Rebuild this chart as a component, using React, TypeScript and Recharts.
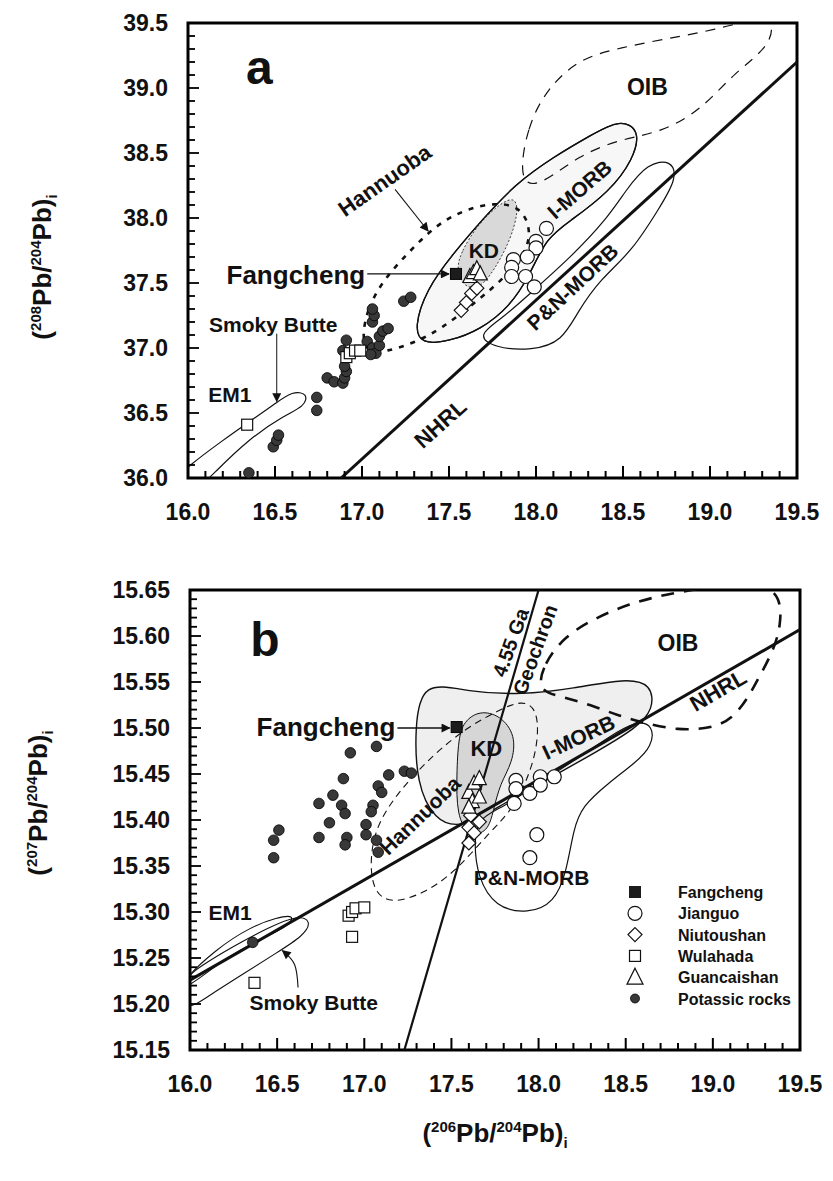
import React from 'react';
import { ScatterChart, Scatter, XAxis, YAxis, ReferenceArea, Legend } from 'recharts';

const FONT = '"Liberation Sans", Arial, Helvetica, sans-serif';
const INK = '#111';

// axis ticks (labelled)
const X_TICKS = [16.0, 16.5, 17.0, 17.5, 18.0, 18.5, 19.0, 19.5];
const Y_TICKS_A = [36.0, 36.5, 37.0, 37.5, 38.0, 38.5, 39.0, 39.5];
const Y_TICKS_B = [15.15, 15.2, 15.25, 15.3, 15.35, 15.4, 15.45, 15.5, 15.55, 15.6, 15.65];

// ---------- panel a : 208Pb/204Pb vs 206Pb/204Pb ----------
const FANGCHENG_A = [{ x: 17.54, y: 37.57 }];
const JIANGUO_A = [
  { x: 18.06, y: 37.92 }, { x: 18.0, y: 37.82 }, { x: 18.0, y: 37.77 },
  { x: 17.95, y: 37.7 }, { x: 17.87, y: 37.68 }, { x: 17.86, y: 37.62 },
  { x: 17.86, y: 37.55 }, { x: 17.94, y: 37.55 }, { x: 17.99, y: 37.47 },
];
const NIUTOUSHAN_A = [
  { x: 17.57, y: 37.29 }, { x: 17.6, y: 37.35 }, { x: 17.63, y: 37.42 }, { x: 17.66, y: 37.46 },
];
const WULAHADA_A = [
  { x: 16.34, y: 36.41 }, { x: 16.91, y: 36.93 }, { x: 16.93, y: 36.96 },
  { x: 16.96, y: 36.98 }, { x: 16.99, y: 36.98 },
];
const GUANCAISHAN_A = [
  { x: 17.62, y: 37.55 }, { x: 17.64, y: 37.58 }, { x: 17.66, y: 37.61 }, { x: 17.68, y: 37.57 },
];
const POTASSIC_A = [
  { x: 16.35, y: 36.04 },
  { x: 16.49, y: 36.24 }, { x: 16.51, y: 36.29 }, { x: 16.52, y: 36.33 },
  { x: 16.74, y: 36.52 }, { x: 16.74, y: 36.62 },
  { x: 16.8, y: 36.77 }, { x: 16.84, y: 36.74 }, { x: 16.89, y: 36.73 },
  { x: 16.9, y: 36.77 }, { x: 16.91, y: 36.82 }, { x: 16.9, y: 36.86 },
  { x: 16.89, y: 36.98 }, { x: 16.91, y: 37.06 },
  { x: 17.03, y: 37.05 }, { x: 17.06, y: 37.0 }, { x: 17.08, y: 36.96 },
  { x: 17.05, y: 36.95 }, { x: 17.1, y: 37.02 },
  { x: 17.06, y: 37.2 }, { x: 17.07, y: 37.25 }, { x: 17.06, y: 37.3 },
  { x: 17.1, y: 37.09 }, { x: 17.12, y: 37.13 }, { x: 17.15, y: 37.15 },
  { x: 17.24, y: 37.36 }, { x: 17.28, y: 37.39 },
];
const NHRL_A = [{ x: 16.88, y: 36.0 }, { x: 19.5, y: 39.2 }];

const FIELD_IMORB_A = [
  { x: 17.3, y: 37.16 }, { x: 17.37, y: 37.45 }, { x: 17.52, y: 37.72 }, { x: 17.7, y: 38.0 },
  { x: 17.88, y: 38.26 }, { x: 18.1, y: 38.47 }, { x: 18.32, y: 38.64 }, { x: 18.48, y: 38.76 },
  { x: 18.6, y: 38.68 }, { x: 18.56, y: 38.45 }, { x: 18.42, y: 38.2 }, { x: 18.2, y: 37.98 },
  { x: 18.06, y: 37.85 }, { x: 17.96, y: 37.55 }, { x: 17.85, y: 37.32 }, { x: 17.68, y: 37.14 },
  { x: 17.5, y: 37.05 }, { x: 17.34, y: 37.03 },
];
const FIELD_PNMORB_A = [
  { x: 17.66, y: 37.1 }, { x: 17.8, y: 37.22 }, { x: 18.0, y: 37.46 }, { x: 18.2, y: 37.7 },
  { x: 18.4, y: 37.98 }, { x: 18.52, y: 38.22 }, { x: 18.64, y: 38.42 }, { x: 18.78, y: 38.45 },
  { x: 18.81, y: 38.3 }, { x: 18.71, y: 38.08 }, { x: 18.55, y: 37.74 }, { x: 18.37, y: 37.53 },
  { x: 18.24, y: 37.28 }, { x: 18.15, y: 37.05 }, { x: 17.98, y: 36.98 }, { x: 17.76, y: 37.0 },
];
const FIELD_KD_A = [
  { x: 17.54, y: 37.6 }, { x: 17.57, y: 37.74 }, { x: 17.66, y: 37.94 }, { x: 17.78, y: 38.1 },
  { x: 17.88, y: 38.17 }, { x: 17.9, y: 38.05 }, { x: 17.85, y: 37.82 }, { x: 17.76, y: 37.6 },
  { x: 17.68, y: 37.46 }, { x: 17.59, y: 37.46 },
];
const FIELD_HANNUOBA_A = [
  { x: 17.0, y: 37.08 }, { x: 17.03, y: 37.3 }, { x: 17.12, y: 37.52 }, { x: 17.27, y: 37.74 },
  { x: 17.42, y: 37.94 }, { x: 17.58, y: 38.06 }, { x: 17.76, y: 38.12 }, { x: 17.91, y: 38.09 },
  { x: 17.97, y: 37.92 }, { x: 17.95, y: 37.75 }, { x: 17.82, y: 37.54 }, { x: 17.66, y: 37.36 },
  { x: 17.46, y: 37.15 }, { x: 17.3, y: 37.04 }, { x: 17.14, y: 36.97 }, { x: 17.03, y: 36.97 },
];
const FIELD_OIB_A = [
  { x: 17.9, y: 38.3 }, { x: 17.95, y: 38.7 }, { x: 18.06, y: 38.99 }, { x: 18.25, y: 39.23 },
  { x: 18.49, y: 39.31 }, { x: 18.75, y: 39.38 }, { x: 19.01, y: 39.44 }, { x: 19.38, y: 39.58 },
  { x: 19.35, y: 39.32 }, { x: 19.14, y: 39.12 }, { x: 18.95, y: 38.83 }, { x: 18.72, y: 38.66 },
  { x: 18.5, y: 38.61 }, { x: 18.25, y: 38.49 }, { x: 18.0, y: 38.22 },
];
const FIELD_EM1_A = [
  { x: 15.9, y: 35.96 }, { x: 16.0, y: 36.09 }, { x: 16.2, y: 36.29 }, { x: 16.36, y: 36.44 },
  { x: 16.5, y: 36.57 }, { x: 16.6, y: 36.67 }, { x: 16.69, y: 36.65 }, { x: 16.67, y: 36.55 },
  { x: 16.55, y: 36.48 }, { x: 16.35, y: 36.3 }, { x: 16.15, y: 36.04 }, { x: 16.05, y: 35.9 },
];
const ARROW_FANGCHENG_A = [{ x: 17.03, y: 37.57 }, { x: 17.5, y: 37.57 }];
const ARROW_HANNUOBA_A = [{ x: 17.19, y: 38.22 }, { x: 17.38, y: 37.9 }];
const ARROW_SMOKY_A = [{ x: 16.51, y: 37.11 }, { x: 16.51, y: 36.59 }];

const LABELS_A = [
  { x: 16.41, y: 39.16, text: 'a' },
  { x: 18.64, y: 39.01, text: 'OIB' },
  { x: 18.25, y: 38.22, text: 'I-MORB' },
  { x: 18.21, y: 37.47, text: 'P&N-MORB' },
  { x: 17.45, y: 36.42, text: 'NHRL' },
  { x: 17.7, y: 37.75, text: 'KD' },
  { x: 17.13, y: 38.29, text: 'Hannuoba' },
  { x: 16.62, y: 37.56, text: 'Fangcheng' },
  { x: 16.49, y: 37.18, text: 'Smoky Butte' },
  { x: 16.24, y: 36.64, text: 'EM1' },
];
const LABEL_STYLE_A: Record<string, { size: number; angle?: number }> = {
  a: { size: 48 },
  OIB: { size: 23 },
  'I-MORB': { size: 21, angle: -41 },
  'P&N-MORB': { size: 21, angle: -43 },
  NHRL: { size: 22, angle: -42 },
  KD: { size: 21 },
  Hannuoba: { size: 22, angle: -35 },
  Fangcheng: { size: 26 },
  'Smoky Butte': { size: 21 },
  EM1: { size: 21 },
};

// ---------- panel b : 207Pb/204Pb vs 206Pb/204Pb ----------
const FANGCHENG_B = [{ x: 17.53, y: 15.501 }];
const JIANGUO_B = [
  { x: 17.87, y: 15.443 }, { x: 17.87, y: 15.434 }, { x: 17.95, y: 15.429 },
  { x: 18.01, y: 15.447 }, { x: 18.01, y: 15.438 }, { x: 18.09, y: 15.447 },
  { x: 17.86, y: 15.418 }, { x: 17.99, y: 15.384 }, { x: 17.95, y: 15.359 },
];
const NIUTOUSHAN_B = [
  { x: 17.61, y: 15.405 }, { x: 17.66, y: 15.398 }, { x: 17.6, y: 15.392 },
  { x: 17.63, y: 15.386 }, { x: 17.6, y: 15.375 },
];
const WULAHADA_B = [
  { x: 16.91, y: 15.296 }, { x: 16.93, y: 15.3 }, { x: 16.95, y: 15.304 },
  { x: 17.0, y: 15.305 }, { x: 16.93, y: 15.273 }, { x: 16.37, y: 15.223 },
];
const GUANCAISHAN_B = [
  { x: 17.6, y: 15.43 }, { x: 17.63, y: 15.44 }, { x: 17.66, y: 15.445 },
  { x: 17.62, y: 15.42 }, { x: 17.66, y: 15.425 }, { x: 17.6, y: 15.414 },
];
const POTASSIC_B = [
  { x: 17.07, y: 15.48 }, { x: 16.92, y: 15.473 }, { x: 17.14, y: 15.449 },
  { x: 17.23, y: 15.453 }, { x: 17.27, y: 15.451 }, { x: 16.88, y: 15.445 },
  { x: 17.08, y: 15.437 }, { x: 17.1, y: 15.43 }, { x: 16.82, y: 15.427 },
  { x: 16.74, y: 15.418 }, { x: 16.87, y: 15.416 }, { x: 16.89, y: 15.407 },
  { x: 17.05, y: 15.416 }, { x: 17.04, y: 15.409 }, { x: 16.8, y: 15.397 },
  { x: 17.01, y: 15.395 }, { x: 16.74, y: 15.381 }, { x: 16.9, y: 15.381 },
  { x: 16.89, y: 15.373 }, { x: 17.01, y: 15.384 }, { x: 17.07, y: 15.378 },
  { x: 17.08, y: 15.365 }, { x: 16.51, y: 15.389 }, { x: 16.48, y: 15.378 },
  { x: 16.48, y: 15.359 }, { x: 16.36, y: 15.267 },
];
const NHRL_B = [{ x: 16.0, y: 15.226 }, { x: 19.5, y: 15.607 }];
const GEOCHRON_B = [{ x: 17.23, y: 15.15 }, { x: 18.0, y: 15.65 }];

const FIELD_IMORB_B = [
  { x: 17.33, y: 15.552 }, { x: 17.6, y: 15.539 }, { x: 17.9, y: 15.536 }, { x: 18.2, y: 15.543 },
  { x: 18.5, y: 15.554 }, { x: 18.65, y: 15.548 }, { x: 18.66, y: 15.52 }, { x: 18.56, y: 15.5 },
  { x: 18.35, y: 15.476 }, { x: 18.05, y: 15.444 }, { x: 17.8, y: 15.418 }, { x: 17.56, y: 15.39 },
  { x: 17.4, y: 15.4 }, { x: 17.3, y: 15.44 }, { x: 17.29, y: 15.5 },
];
const FIELD_PNMORB_B = [
  { x: 17.65, y: 15.402 }, { x: 17.8, y: 15.414 }, { x: 18.0, y: 15.44 }, { x: 18.2, y: 15.464 },
  { x: 18.4, y: 15.49 }, { x: 18.56, y: 15.508 }, { x: 18.66, y: 15.503 }, { x: 18.65, y: 15.48 },
  { x: 18.56, y: 15.463 }, { x: 18.4, y: 15.44 }, { x: 18.25, y: 15.415 }, { x: 18.2, y: 15.39 },
  { x: 18.16, y: 15.343 }, { x: 18.09, y: 15.31 }, { x: 17.94, y: 15.298 }, { x: 17.75, y: 15.305 },
  { x: 17.65, y: 15.338 }, { x: 17.63, y: 15.375 },
];
const FIELD_KD_B = [
  { x: 17.57, y: 15.507 }, { x: 17.66, y: 15.519 }, { x: 17.78, y: 15.514 }, { x: 17.87, y: 15.492 },
  { x: 17.85, y: 15.462 }, { x: 17.78, y: 15.44 }, { x: 17.74, y: 15.41 }, { x: 17.71, y: 15.387 },
  { x: 17.6, y: 15.382 }, { x: 17.53, y: 15.405 }, { x: 17.53, y: 15.45 }, { x: 17.54, y: 15.488 },
];
const FIELD_HANNUOBA_B = [
  { x: 17.03, y: 15.35 }, { x: 17.06, y: 15.392 }, { x: 17.2, y: 15.432 }, { x: 17.4, y: 15.472 },
  { x: 17.6, y: 15.502 }, { x: 17.78, y: 15.52 }, { x: 17.9, y: 15.53 }, { x: 17.99, y: 15.522 },
  { x: 18.0, y: 15.49 }, { x: 17.96, y: 15.455 }, { x: 17.86, y: 15.413 }, { x: 17.72, y: 15.387 },
  { x: 17.52, y: 15.343 }, { x: 17.34, y: 15.32 }, { x: 17.16, y: 15.309 }, { x: 17.06, y: 15.32 },
];
const FIELD_OIB_B = [
  { x: 17.99, y: 15.54 }, { x: 18.03, y: 15.57 }, { x: 18.15, y: 15.6 }, { x: 18.33, y: 15.62 },
  { x: 18.52, y: 15.635 }, { x: 18.72, y: 15.645 }, { x: 19.0, y: 15.654 }, { x: 19.29, y: 15.658 },
  { x: 19.39, y: 15.642 }, { x: 19.39, y: 15.612 }, { x: 19.35, y: 15.585 }, { x: 19.27, y: 15.557 },
  { x: 19.2, y: 15.532 }, { x: 19.11, y: 15.51 }, { x: 19.0, y: 15.5 }, { x: 18.8, y: 15.497 },
  { x: 18.6, y: 15.506 }, { x: 18.45, y: 15.514 }, { x: 18.3, y: 15.525 }, { x: 18.14, y: 15.534 },
];
const FIELD_EM1_B = [
  { x: 15.94, y: 15.222 }, { x: 16.15, y: 15.26 }, { x: 16.35, y: 15.284 }, { x: 16.5, y: 15.294 },
  { x: 16.6, y: 15.297 }, { x: 16.57, y: 15.285 }, { x: 16.4, y: 15.27 }, { x: 16.2, y: 15.25 },
  { x: 15.98, y: 15.216 },
];
const FIELD_SMOKY_B = [
  { x: 15.96, y: 15.19 }, { x: 16.1, y: 15.208 }, { x: 16.3, y: 15.232 }, { x: 16.5, y: 15.256 },
  { x: 16.65, y: 15.274 }, { x: 16.7, y: 15.29 }, { x: 16.62, y: 15.297 }, { x: 16.45, y: 15.283 },
  { x: 16.25, y: 15.263 }, { x: 16.05, y: 15.24 }, { x: 15.96, y: 15.226 },
];
const ARROW_FANGCHENG_B = [{ x: 17.19, y: 15.5 }, { x: 17.49, y: 15.5 }];
const ARROW_SMOKY_B = [{ x: 16.62, y: 15.218 }, { x: 16.6, y: 15.243 }, { x: 16.53, y: 15.258 }];

const LABELS_B = [
  { x: 16.43, y: 15.596, text: 'b' },
  { x: 16.78, y: 15.501, text: 'Fangcheng' },
  { x: 17.7, y: 15.478, text: 'KD' },
  { x: 18.23, y: 15.49, text: 'I-MORB' },
  { x: 17.96, y: 15.337, text: 'P&N-MORB' },
  { x: 18.8, y: 15.592, text: 'OIB' },
  { x: 19.03, y: 15.541, text: 'NHRL' },
  { x: 17.84, y: 15.593, text: '4.55 Ga' },
  { x: 17.98, y: 15.585, text: 'Geochron' },
  { x: 17.32, y: 15.405, text: 'Hannuoba' },
  { x: 16.23, y: 15.299, text: 'EM1' },
  { x: 16.71, y: 15.201, text: 'Smoky Butte' },
];
const LABEL_STYLE_B: Record<string, { size: number; angle?: number }> = {
  b: { size: 48 },
  Fangcheng: { size: 26 },
  KD: { size: 22 },
  'I-MORB': { size: 21, angle: -25 },
  'P&N-MORB': { size: 21 },
  OIB: { size: 23 },
  NHRL: { size: 22, angle: -30 },
  '4.55 Ga': { size: 20, angle: -70 },
  Geochron: { size: 20, angle: -70 },
  Hannuoba: { size: 21, angle: -44 },
  EM1: { size: 21 },
  'Smoky Butte': { size: 21 },
};

const LEGEND_ORDER = ['Fangcheng', 'Jianguo', 'Niutoushan', 'Wulahada', 'Guancaishan', 'Potassic rocks'];

// ---------- helpers ----------
const steps = (lo: number, hi: number, step: number) => {
  const out: number[] = [];
  const n = Math.round((hi - lo) / step);
  for (let i = 0; i <= n; i++) out.push(+(lo + i * step).toFixed(4));
  return out;
};
const isMajor = (v: number, majors: number[]) => majors.some((m) => Math.abs(m - v) < 1e-6);

const X_ALL = steps(16, 19.5, 0.1);
const Y_ALL_A = steps(36, 39.5, 0.1);
const Y_ALL_B = steps(15.15, 15.65, 0.01);

// inward tick marks, placed on the frame through the chart scales (thin filled bars)
const xTickMarks = (yBase: number) => X_ALL.map((v) => ({ x: v, y: yBase, major: isMajor(v, X_TICKS) }));
const yTickMarks = (values: number[], majors: number[]) => values.map((v) => ({ x: 16, y: v, major: isMajor(v, majors) }));

const xMarkShape = (p: any) => {
  const len = p.payload.major ? 12 : 7;
  return <rect x={p.cx - 1} y={p.cy - len} width={2} height={len} fill="#000" />;
};
const yMarkShape = (p: any) => {
  const len = p.payload.major ? 11 : 7;
  return <rect x={p.cx} y={p.cy - 0.9} width={len} height={1.8} fill="#000" />;
};

const X_MARGIN = 26;
const Y_MARGIN = 20;

const makeXTick = (majors: number[]) => (props: any) => {
  const v = props.payload.value;
  if (!isMajor(v, majors)) return <g />;
  return (
    <text x={props.x} y={Number(props.y) + 16} textAnchor="middle" fontFamily={FONT} fontWeight="bold" fontSize={23} fill={INK}>
      {v.toFixed(1)}
    </text>
  );
};

const makeYTick = (majors: number[], decimals: number) => (props: any) => {
  const v = props.payload.value;
  if (!isMajor(v, majors)) return <g />;
  return (
    <text x={props.x} y={Number(props.y) + 8} textAnchor="end" fontFamily={FONT} fontWeight="bold" fontSize={23} fill={INK}>
      {v.toFixed(decimals)}
    </text>
  );
};

// symbols
const Nothing = () => <g />;
const dotShape = (p: any) => <circle cx={p.cx} cy={p.cy} r={5.3} fill="#383838" stroke="#000" strokeWidth={0.8} />;
const circleShape = (p: any) => <circle cx={p.cx} cy={p.cy} r={7} fill="#fff" stroke={INK} strokeWidth={1.2} />;
const squareShape = (p: any) => <rect x={p.cx - 5.5} y={p.cy - 5.5} width={11} height={11} fill="#fff" stroke={INK} strokeWidth={1.2} />;
const blackSquareShape = (p: any) => <rect x={p.cx - 5.5} y={p.cy - 5.5} width={11} height={11} fill="#1c1c1c" stroke="#000" strokeWidth={1} />;
const diamondShape = (p: any) => (
  <polygon points={`${p.cx},${p.cy - 7} ${p.cx + 7},${p.cy} ${p.cx},${p.cy + 7} ${p.cx - 7},${p.cy}`} fill="#fff" stroke={INK} strokeWidth={1.2} />
);
const triangleShape = (p: any) => (
  <polygon points={`${p.cx},${p.cy - 8} ${p.cx + 7},${p.cy + 6} ${p.cx - 7},${p.cy + 6}`} fill="#fff" stroke={INK} strokeWidth={1.2} />
);

const makeTextShape = (styles: Record<string, { size: number; angle?: number }>) => (p: any) => {
  const t = p.payload.text as string;
  const s = styles[t] || { size: 20 };
  return (
    <text
      x={p.cx}
      y={p.cy}
      dy="0.35em"
      textAnchor="middle"
      fontFamily={FONT}
      fontWeight="bold"
      fontSize={s.size}
      fill={INK}
      transform={s.angle ? `rotate(${s.angle} ${p.cx} ${p.cy})` : undefined}
    >
      {t}
    </text>
  );
};

const field = (key: string, data: any[], line: any) => (
  <Scatter
    key={key}
    data={data}
    line={{ fill: 'none', stroke: INK, strokeWidth: 1.2, ...line }}
    lineJointType="basisClosed"
    shape={Nothing}
    legendType="none"
    isAnimationActive={false}
  />
);

const path = (key: string, data: any[], line: any, joint: any = 'linear') => (
  <Scatter
    key={key}
    data={data}
    line={{ fill: 'none', stroke: INK, ...line }}
    lineJointType={joint}
    shape={Nothing}
    legendType="none"
    isAnimationActive={false}
  />
);

const legendSymbol = (name: string) => {
  switch (name) {
    case 'Fangcheng':
      return <rect x={-6} y={-6} width={12} height={12} fill="#1c1c1c" />;
    case 'Jianguo':
      return <circle r={7} fill="#fff" stroke={INK} strokeWidth={1.2} />;
    case 'Niutoushan':
      return <polygon points="0,-7 7,0 0,7 -7,0" fill="#fff" stroke={INK} strokeWidth={1.2} />;
    case 'Wulahada':
      return <rect x={-5.5} y={-5.5} width={11} height={11} fill="#fff" stroke={INK} strokeWidth={1.2} />;
    case 'Guancaishan':
      return <polygon points="0,-9 8,7 -8,7" fill="#fff" stroke={INK} strokeWidth={1.2} />;
    default:
      return <circle r={4.5} fill="#383838" stroke="#000" strokeWidth={0.8} />;
  }
};

const LegendBox = (props: any) => {
  const items = (props.payload || [])
    .map((p: any) => p.value)
    .filter((n: string) => LEGEND_ORDER.includes(n))
    .sort((a: string, b: string) => LEGEND_ORDER.indexOf(a) - LEGEND_ORDER.indexOf(b));
  return (
    <svg width={180} height={130}>
      {items.map((name: string, i: number) => (
        <g key={name} transform={`translate(0, ${12 + i * 21.3})`}>
          <g transform="translate(15,0)">{legendSymbol(name)}</g>
          <text x={58} y={6} fontFamily={FONT} fontWeight="bold" fontSize={16} fill={INK}>
            {name}
          </text>
        </g>
      ))}
    </svg>
  );
};

const markerDef = (id: string) => (
  <marker id={id} viewBox="0 0 10 10" refX="9" refY="5" markerWidth="11" markerHeight="9" markerUnits="userSpaceOnUse" orient="auto">
    <path d="M0,0 L10,5 L0,10 z" fill={INK} />
  </marker>
);

function PanelA() {
  return (
    <ScatterChart width={833} height={540} margin={{ top: 23, right: 36, bottom: 22, left: 88 }}>
      <defs>{markerDef('arrA')}</defs>
      <XAxis
        type="number"
        dataKey="x"
        domain={[16, 19.5]}
        ticks={X_TICKS}
        interval={0}
        allowDataOverflow
        axisLine={false}
        tickLine={false}
        tickSize={0}
        tickMargin={X_MARGIN}
        tick={makeXTick(X_TICKS)}
        height={40}
      />
      <YAxis
        type="number"
        dataKey="y"
        domain={[36, 39.5]}
        ticks={Y_TICKS_A}
        interval={0}
        allowDataOverflow
        axisLine={false}
        tickLine={false}
        tickSize={0}
        tickMargin={Y_MARGIN}
        tick={makeYTick(Y_TICKS_A, 1)}
        width={100}
      />
      {field('imorbA', FIELD_IMORB_A, { fill: '#f7f7f7', strokeWidth: 1.3 })}
      {field('kdA', FIELD_KD_A, { fill: '#d9d9d9', strokeWidth: 0.8, strokeDasharray: '2 2' })}
      {field('imorbLineA', FIELD_IMORB_A, { strokeWidth: 1.3 })}
      {field('pnA', FIELD_PNMORB_A, { strokeWidth: 1.2 })}
      {field('oibA', FIELD_OIB_A, { strokeWidth: 1.2, strokeDasharray: '10 8' })}
      {field('hanA', FIELD_HANNUOBA_A, { strokeWidth: 2.6, strokeDasharray: '5 7' })}
      {field('em1A', FIELD_EM1_A, { strokeWidth: 1.2 })}
      {path('nhrlA', NHRL_A, { strokeWidth: 3 })}
      {path('arrFA', ARROW_FANGCHENG_A, { strokeWidth: 1.3, markerEnd: 'url(#arrA)' })}
      {path('arrHA', ARROW_HANNUOBA_A, { strokeWidth: 1.1, markerEnd: 'url(#arrA)' })}
      {path('arrSA', ARROW_SMOKY_A, { strokeWidth: 1, markerEnd: 'url(#arrA)' })}
      <Scatter data={xTickMarks(36)} shape={xMarkShape} legendType="none" isAnimationActive={false} />
      <Scatter data={yTickMarks(Y_ALL_A, Y_TICKS_A)} shape={yMarkShape} legendType="none" isAnimationActive={false} />
      <Scatter name="Potassic rocks" data={POTASSIC_A} shape={dotShape} legendType="none" isAnimationActive={false} />
      <Scatter name="Wulahada" data={WULAHADA_A} shape={squareShape} legendType="none" isAnimationActive={false} />
      <Scatter name="Niutoushan" data={NIUTOUSHAN_A} shape={diamondShape} legendType="none" isAnimationActive={false} />
      <Scatter name="Guancaishan" data={GUANCAISHAN_A} shape={triangleShape} legendType="none" isAnimationActive={false} />
      <Scatter name="Fangcheng" data={FANGCHENG_A} shape={blackSquareShape} legendType="none" isAnimationActive={false} />
      <Scatter name="Jianguo" data={JIANGUO_A} shape={circleShape} legendType="none" isAnimationActive={false} />
      <Scatter data={LABELS_A} shape={makeTextShape(LABEL_STYLE_A)} legendType="none" isAnimationActive={false} />
      <ReferenceArea x1={16} x2={19.5} y1={36} y2={39.5} fill="none" fillOpacity={0} stroke="#000" strokeWidth={3} ifOverflow="visible" />
    </ScatterChart>
  );
}

function PanelB() {
  return (
    <ScatterChart width={833} height={641} margin={{ top: 50, right: 33, bottom: 91, left: 90 }}>
      <defs>{markerDef('arrB')}</defs>
      <XAxis
        type="number"
        dataKey="x"
        domain={[16, 19.5]}
        ticks={X_TICKS}
        interval={0}
        allowDataOverflow
        axisLine={false}
        tickLine={false}
        tickSize={0}
        tickMargin={X_MARGIN}
        tick={makeXTick(X_TICKS)}
        height={40}
      />
      <YAxis
        type="number"
        dataKey="y"
        domain={[15.15, 15.65]}
        ticks={Y_TICKS_B}
        interval={0}
        allowDataOverflow
        axisLine={false}
        tickLine={false}
        tickSize={0}
        tickMargin={Y_MARGIN}
        tick={makeYTick(Y_TICKS_B, 2)}
        width={100}
      />
      {field('imorbB', FIELD_IMORB_B, { fill: '#efefef', strokeWidth: 1.4 })}
      {field('kdB', FIELD_KD_B, { fill: '#d6d6d6', strokeWidth: 1 })}
      {field('pnB', FIELD_PNMORB_B, { strokeWidth: 1.2 })}
      {field('hanB', FIELD_HANNUOBA_B, { strokeWidth: 1.1, strokeDasharray: '7 5' })}
      {field('oibB', FIELD_OIB_B, { strokeWidth: 2.6, strokeDasharray: '13 10' })}
      {field('em1B', FIELD_EM1_B, { strokeWidth: 1.1 })}
      {field('smokyB', FIELD_SMOKY_B, { strokeWidth: 1.1 })}
      {path('nhrlB', NHRL_B, { strokeWidth: 3 })}
      {path('geoB', GEOCHRON_B, { strokeWidth: 2.2 })}
      {path('arrFB', ARROW_FANGCHENG_B, { strokeWidth: 1.3, markerEnd: 'url(#arrB)' })}
      {path('arrSB', ARROW_SMOKY_B, { strokeWidth: 1.1, markerEnd: 'url(#arrB)' }, 'natural')}
      <Scatter data={xTickMarks(15.15)} shape={xMarkShape} legendType="none" isAnimationActive={false} />
      <Scatter data={yTickMarks(Y_ALL_B, Y_TICKS_B)} shape={yMarkShape} legendType="none" isAnimationActive={false} />
      <Scatter name="Potassic rocks" data={POTASSIC_B} shape={dotShape} isAnimationActive={false} />
      <Scatter name="Wulahada" data={WULAHADA_B} shape={squareShape} isAnimationActive={false} />
      <Scatter name="Niutoushan" data={NIUTOUSHAN_B} shape={diamondShape} isAnimationActive={false} />
      <Scatter name="Guancaishan" data={GUANCAISHAN_B} shape={triangleShape} isAnimationActive={false} />
      <Scatter name="Fangcheng" data={FANGCHENG_B} shape={blackSquareShape} isAnimationActive={false} />
      <Scatter name="Jianguo" data={JIANGUO_B} shape={circleShape} isAnimationActive={false} />
      <Scatter data={LABELS_B} shape={makeTextShape(LABEL_STYLE_B)} legendType="none" isAnimationActive={false} />
      <ReferenceArea x1={16} x2={19.5} y1={15.15} y2={15.65} fill="none" fillOpacity={0} stroke="#000" strokeWidth={3} ifOverflow="visible" />
      <Legend
        layout="vertical"
        align="center"
        verticalAlign="middle"
        content={LegendBox}
        wrapperStyle={{ left: 620, top: 340, width: 180, height: 130 }}
      />
    </ScatterChart>
  );
}

const titleStyle: React.CSSProperties = {
  position: 'absolute',
  whiteSpace: 'nowrap',
  fontFamily: FONT,
  fontWeight: 'bold',
  fontSize: 26,
  color: INK,
  lineHeight: 1,
};
const supStyle: React.CSSProperties = { fontSize: 15, verticalAlign: 'super', lineHeight: 0 };
const subStyle: React.CSSProperties = { fontSize: 15, verticalAlign: 'sub', lineHeight: 0 };

export default function App() {
  return (
    <div style={{ position: 'absolute', left: 0, top: 0, width: 833, height: 1181, background: '#fff', overflow: 'hidden' }}>
      <div style={{ position: 'absolute', left: 0, top: 0 }}>
        <PanelA />
      </div>
      <div style={{ position: 'absolute', left: 0, top: 540 }}>
        <PanelB />
      </div>
      <div style={{ ...titleStyle, left: 42, top: 267, transform: 'translate(-50%, -50%) rotate(-90deg)' }}>
        (<span style={supStyle}>208</span>Pb/<span style={supStyle}>204</span>Pb)<span style={subStyle}>i</span>
      </div>
      <div style={{ ...titleStyle, left: 38, top: 803, transform: 'translate(-50%, -50%) rotate(-90deg)' }}>
        (<span style={supStyle}>207</span>Pb/<span style={supStyle}>204</span>Pb)<span style={subStyle}>i</span>
      </div>
      <div style={{ ...titleStyle, left: 495, top: 1133, transform: 'translate(-50%, -50%)' }}>
        (<span style={supStyle}>206</span>Pb/<span style={supStyle}>204</span>Pb)<span style={subStyle}>i</span>
      </div>
    </div>
  );
}
